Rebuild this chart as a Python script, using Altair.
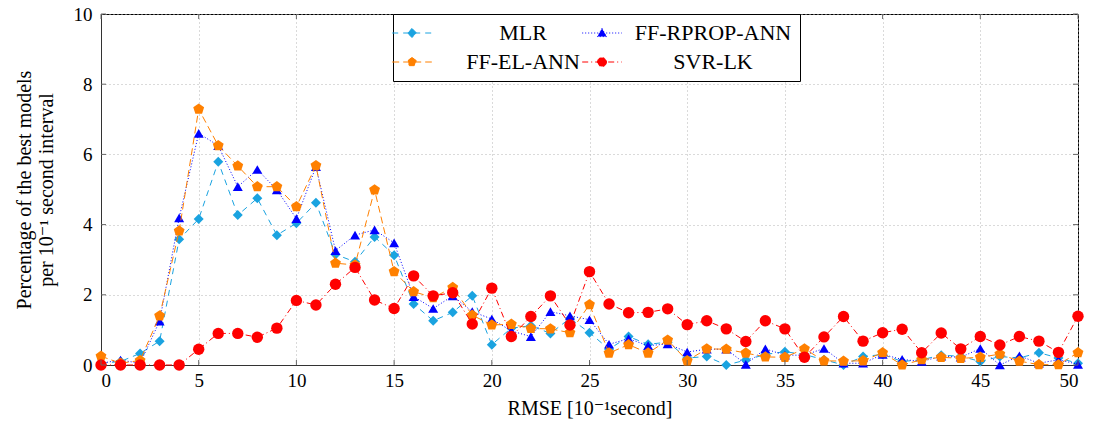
import altair as alt
import pandas as pd

# ---------------- data ----------------
x_vals = list(range(51))

series_names = ["MLR", "FF-RPROP-ANN", "FF-EL-ANN", "SVR-LK"]

mlr = [0.05, 0.10, 0.33, 0.68, 3.58, 4.16, 5.79, 4.27, 4.75, 3.70,
       4.04, 4.62, 3.15, 2.94, 3.65, 3.13, 1.74, 1.26, 1.50, 1.97,
       0.58, 1.05, 1.12, 0.90, 1.33, 0.92, 0.45, 0.81, 0.59, 0.65,
       0.20, 0.24, 0.00, 0.14, 0.30, 0.38, 0.30, 0.15, 0.00, 0.24,
       0.30, 0.10, 0.15, 0.28, 0.25, 0.10, 0.24, 0.20, 0.35, 0.20,
       0.05]

rprop = [0.05, 0.14, 0.05, 1.25, 4.19, 6.60, 6.25, 5.08, 5.57, 4.99,
         4.17, 5.65, 3.26, 3.70, 3.85, 3.48, 1.95, 1.61, 1.97, 1.52,
         1.31, 0.97, 0.81, 1.52, 1.40, 1.29, 0.59, 0.75, 0.55, 0.60,
         0.37, 0.45, 0.45, 0.02, 0.46, 0.28, 0.28, 0.47, 0.05, 0.05,
         0.30, 0.16, 0.10, 0.25, 0.22, 0.47, 0.00, 0.26, 0.05, 0.15,
         0.02]

elann = [0.25, 0.05, 0.13, 1.40, 3.82, 7.29, 6.25, 5.67, 5.08, 5.08,
         4.51, 5.68, 2.90, 2.85, 4.99, 2.66, 2.09, 1.92, 2.21, 1.42,
         1.14, 1.16, 1.04, 1.03, 0.92, 1.72, 0.34, 0.58, 0.34, 0.71,
         0.12, 0.46, 0.45, 0.34, 0.23, 0.22, 0.46, 0.12, 0.11, 0.12,
         0.35, 0.00, 0.15, 0.22, 0.19, 0.22, 0.31, 0.11, 0.01, 0.01,
         0.35]

svr = [0.00, 0.00, 0.00, 0.00, 0.00, 0.45, 0.90, 0.90, 0.79, 1.05,
       1.84, 1.71, 2.30, 2.78, 1.85, 1.61, 2.54, 1.97, 2.06, 1.17,
       2.19, 0.81, 1.38, 1.97, 1.14, 2.66, 1.74, 1.49, 1.50, 1.60,
       1.15, 1.26, 1.03, 0.67, 1.26, 1.03, 0.22, 0.80, 1.38, 0.68,
       0.92, 1.02, 0.35, 0.91, 0.46, 0.81, 0.57, 0.81, 0.68, 0.36,
       1.39]

x_ticks = list(range(0, 51, 5))
y_ticks = [0, 2, 4, 6, 8, 10]

# ---------------- styles ----------------
colors = ["#1aa3e0", "#0000ff", "#ff8000", "#ff0000"]
dashes = [[6, 5], [1, 2], [7, 4], [6, 3, 1, 3]]
PENT = "M0,-1L0.951,-0.309L0.588,0.809L-0.588,0.809L-0.951,-0.309Z"
plot_shapes = ["diamond", "triangle-up", PENT, "circle"]
plot_sizes = [100, 100, 130, 130]

LINE = "M-4.4,0H4.4"
legend_shapes = [
    LINE + "M0,-1L1,0L0,1L-1,0Z",
    LINE + "M0,-1L1,0.8L-1,0.8Z",
    LINE + PENT,
    LINE + "M1,0A1,1,0,1,1,-1,0A1,1,0,1,1,1,0Z",
]

W, H = 977, 351
FONT = "'Liberation Serif', 'Times New Roman', 'DejaVu Serif', serif"

rows = []
for name, vals in zip(series_names, [mlr, rprop, elann, svr]):
    for xv, yv in zip(x_vals, vals):
        rows.append({"x": xv, "y": yv, "series": name})
df = pd.DataFrame(rows)

X = alt.X("x:Q",
          scale=alt.Scale(domain=[0, 50], nice=False, zero=False),
          axis=alt.Axis(values=x_ticks, title="RMSE [10⁻¹second]",
                        tickSize=0, labelPadding=6, titlePadding=8,
                        gridDash=[1, 3], gridColor="#b4b4b4"))
Y = alt.Y("y:Q",
          scale=alt.Scale(domain=[0, 10], nice=False),
          axis=alt.Axis(values=y_ticks,
                        title=["Percentage of the best models",
                               "per 10⁻¹ second interval"],
                        tickSize=0, labelPadding=9, titlePadding=17,
                        gridDash=[1, 3], gridColor="#b4b4b4"))

base = alt.Chart(df)
layers = []
for name, col, dash, shp, sz in zip(series_names, colors, dashes, plot_shapes, plot_sizes):
    sub = base.transform_filter(alt.datum.series == name)
    layers.append(sub.mark_line(color=col, strokeDash=dash, strokeWidth=1).encode(x=X, y=Y))
    layers.append(sub.mark_point(filled=True, color=col, shape=shp, size=sz,
                                 opacity=1, strokeWidth=0).encode(x=X, y=Y))

# inward tick marks
xt = pd.DataFrame({"x": x_ticks})
yt = pd.DataFrame({"y": y_ticks})
tick_col = "#666666"
layers.append(alt.Chart(xt).mark_rule(color=tick_col, strokeWidth=1).encode(
    x=X, y=alt.value(H), y2=alt.value(H - 5)))
layers.append(alt.Chart(xt).mark_rule(color=tick_col, strokeWidth=1).encode(
    x=X, y=alt.value(0), y2=alt.value(5)))
layers.append(alt.Chart(yt).mark_rule(color=tick_col, strokeWidth=1).encode(
    y=Y, x=alt.value(0), x2=alt.value(5)))
layers.append(alt.Chart(yt).mark_rule(color=tick_col, strokeWidth=1).encode(
    y=Y, x=alt.value(W), x2=alt.value(W - 5)))

# legend-only layer (no marks drawn)
leg = alt.Legend(title=None, orient="none", legendX=292, legendY=0, columns=2,
                 direction="horizontal",
                 strokeColor="black", fillColor="white", padding=8,
                 rowPadding=7, columnPadding=0,
                 symbolSize=81, symbolStrokeWidth=1,
                 symbolOpacity=1,
                 labelFont=FONT, labelFontSize=22, labelColor="black",
                 labelAlign="center", labelOffset=100, labelLimit=400)
sc = dict(domain=series_names)
legend_layer = base.transform_filter("false").mark_point(filled=True, opacity=1).encode(
    fill=alt.Fill("series:N", scale=alt.Scale(range=colors, **sc), legend=leg),
    stroke=alt.Stroke("series:N", scale=alt.Scale(range=colors, **sc), legend=leg),
    shape=alt.Shape("series:N", scale=alt.Scale(range=legend_shapes, **sc), legend=leg),
    strokeDash=alt.StrokeDash("series:N", scale=alt.Scale(range=dashes, **sc), legend=leg),
)
layers.append(legend_layer)

chart = alt.layer(*layers).properties(
    width=W, height=H,
    autosize=alt.AutoSizeParams(type="none"),
    padding={"left": 101, "top": 14, "right": 17, "bottom": 63},
).configure_view(
    stroke="black", strokeWidth=1
).configure_axis(
    labelFont=FONT, labelFontSize=19, labelColor="black",
    titleFont=FONT, titleFontSize=20, titleColor="black", titleFontWeight="normal",
    domainColor="#333333", titleLineHeight=22,
)

chart.save("out.html", embed_options={"renderer": "svg", "actions": False})
